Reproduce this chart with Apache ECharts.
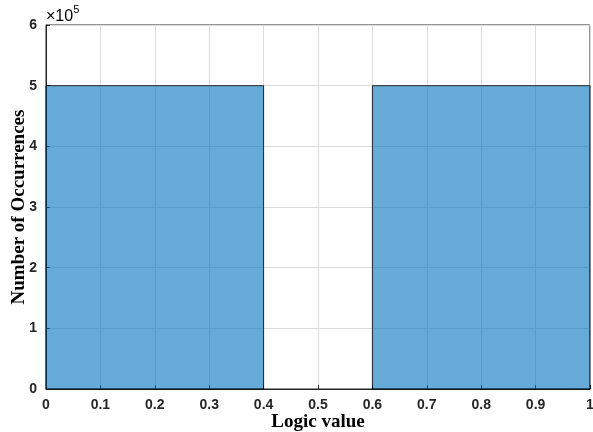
<!DOCTYPE html>
<html><head><meta charset="utf-8">
<script src="https://cdn.jsdelivr.net/npm/echarts@6/dist/echarts.min.js"></script>
<style>html,body{margin:0;padding:0;background:#fff}#c{width:593px;height:432px}</style>
</head><body><div id="c"></div>
<script>
const binStarts = [0, 0.6];
const binEnds = [0.4, 1.0];
const counts = [500000, 500000];
const xTicks = [0,0.1,0.2,0.3,0.4,0.5,0.6,0.7,0.8,0.9,1];
const yTicks = [0,1,2,3,4,5,6];

const data = binStarts.map((s,i)=>[s, binEnds[i], counts[i]]);
const chart = echarts.init(document.getElementById('c'));
const tickFont = {fontFamily:'Liberation Sans, Arial', fontWeight:'bold', fontSize:14, color:'#262626'};
chart.setOption({
  animation:false,
  grid:{left:46, right:3, top:25, bottom:43, show:true, borderColor:'#262626', borderWidth:1, backgroundColor:'#fff',
    containLabel:false, outerBoundsMode:'none'},
  xAxis:{type:'value', min:0, max:1, interval:0.1,
    axisLine:{show:true, onZero:false, lineStyle:{color:'#262626'}},
    axisTick:{show:true, inside:true, length:4, lineStyle:{color:'#262626'}},
    axisLabel:{...tickFont, margin:9, formatter:v=>{const r=Math.round(v*10)/10; return r===0?'0':(r===1?'1':r.toString());}},
    splitLine:{show:true, lineStyle:{color:'#dcdcdc', width:1}},
    name:'Logic value', nameLocation:'middle', nameGap:24, nameMoveOverlap:false,
    nameTextStyle:{fontFamily:'Liberation Serif, Times New Roman', fontWeight:'bold', fontSize:19, color:'#000'}
  },
  yAxis:{type:'value', min:0, max:600000, interval:100000,
    axisLine:{show:true, lineStyle:{color:'#262626'}},
    axisTick:{show:true, inside:true, length:4, lineStyle:{color:'#262626'}},
    axisLabel:{...tickFont, margin:9, formatter:v=>String(Math.round(v/100000))},
    splitLine:{show:true, lineStyle:{color:'#dcdcdc', width:1}},
    name:'Number of Occurrences', nameLocation:'middle', nameGap:17, nameMoveOverlap:false,
    nameTextStyle:{fontFamily:'Liberation Serif, Times New Roman', fontWeight:'bold', fontSize:19, color:'#000'}
  },
  series:[{
    type:'custom',
    data:data,
    z:1,
    renderItem:function(params, api){
      const p0 = api.coord([api.value(0), api.value(2)]);
      const p1 = api.coord([api.value(1), 0]);
      return {type:'rect', shape:{x:p0[0], y:p0[1], width:p1[0]-p0[0], height:p1[1]-p0[1]},
        style:{fill:'rgba(0,114,189,0.6)', stroke:'#000', lineWidth:0.8}};
    },
    encode:{x:[0,1], y:2}
  }],
  graphic:[{type:'text', left:46, top:4, style:{
    text:'{a|×10}{b|5}', rich:{
      a:{fontFamily:'Liberation Sans, Arial', fontSize:16, color:'#262626', padding:[8,0,0,0]},
      b:{fontFamily:'Liberation Sans, Arial', fontSize:11, color:'#262626', padding:[0,0,6,0]}
    }}}]
});
</script></body></html>
